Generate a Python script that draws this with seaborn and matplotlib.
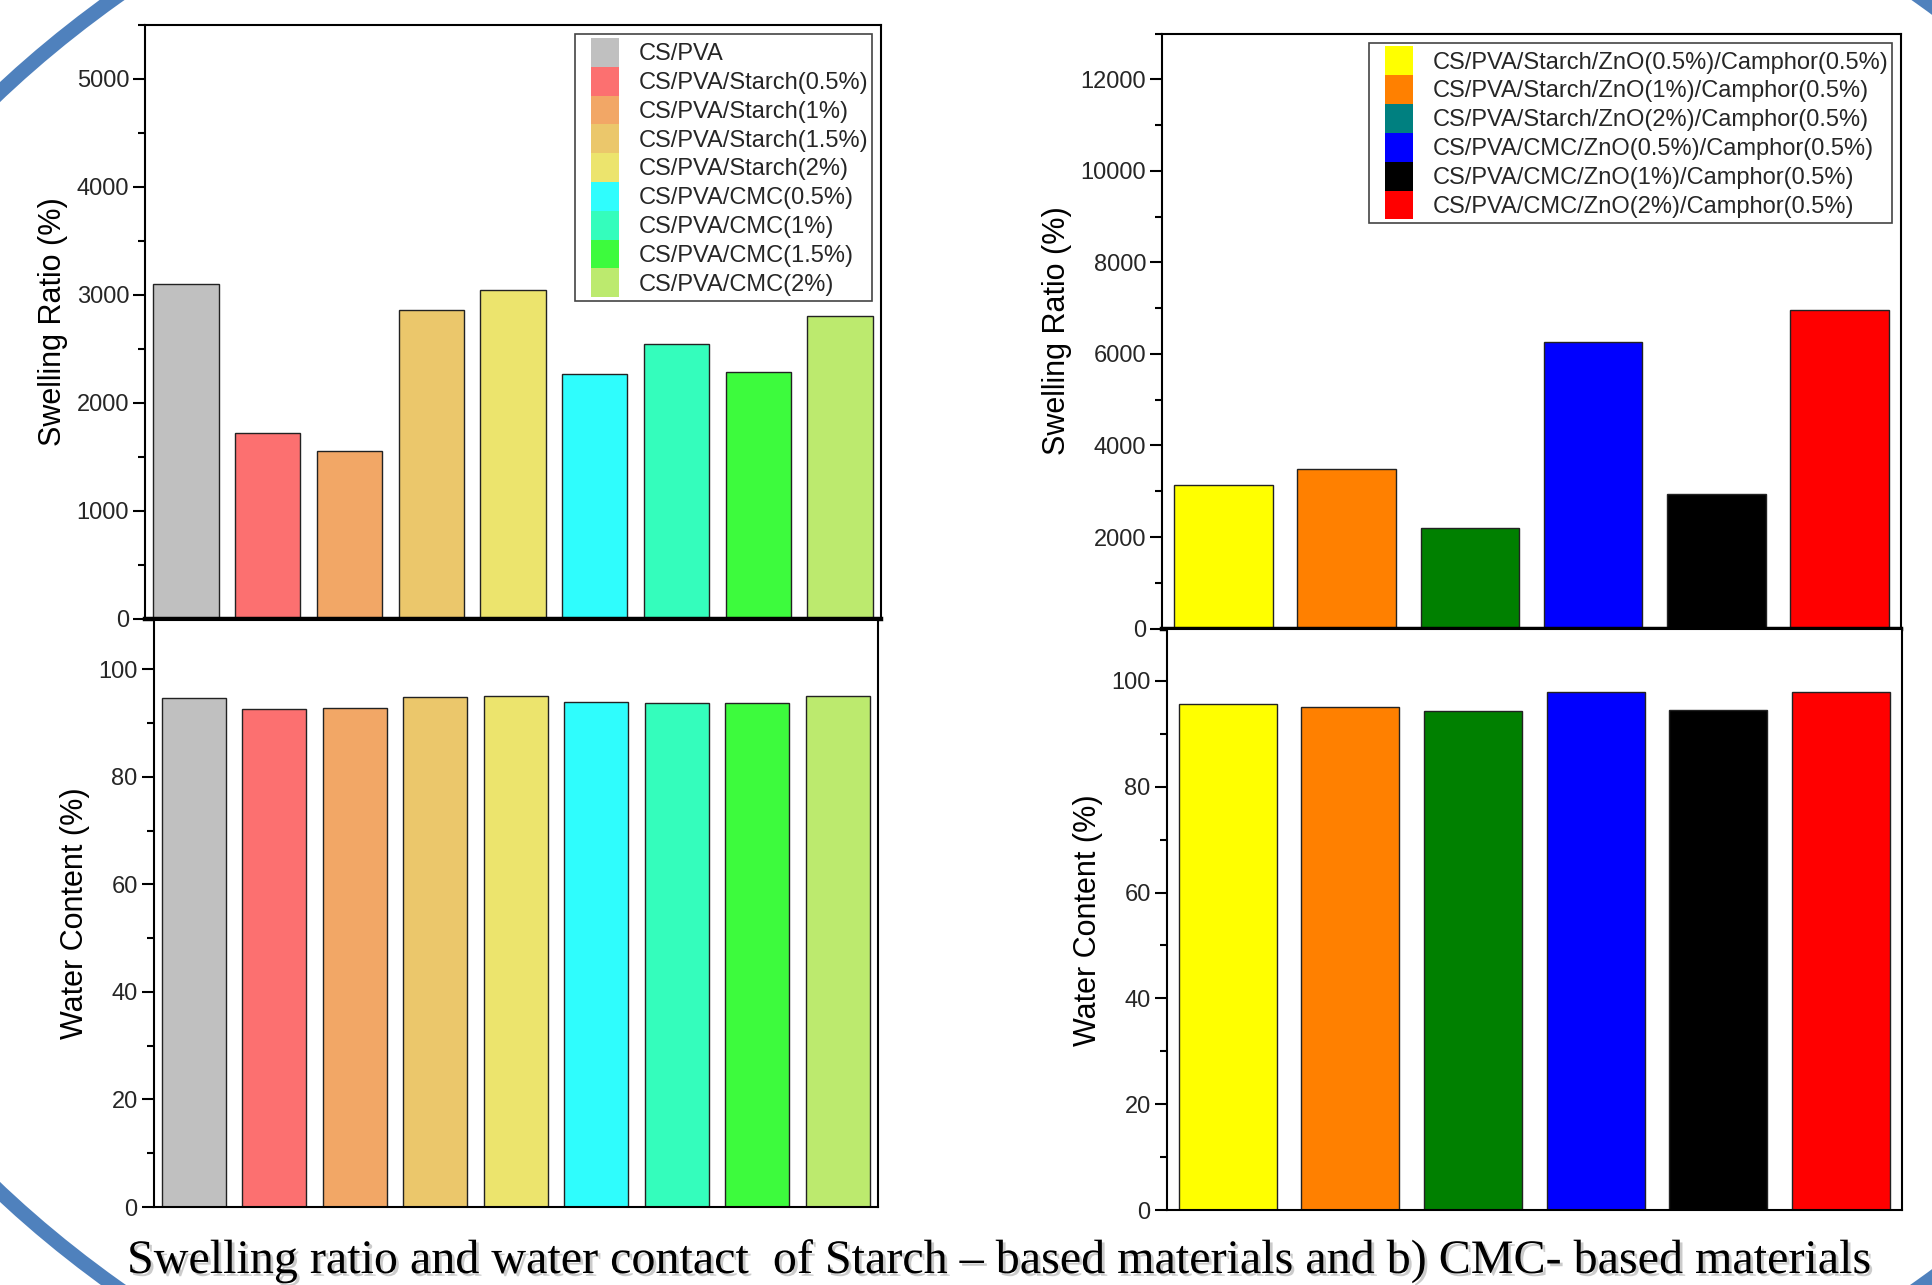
import matplotlib
matplotlib.use("Agg")
import matplotlib.pyplot as plt
import seaborn as sns
import pandas as pd
from matplotlib.patches import Patch, Ellipse, Rectangle
from matplotlib.legend_handler import HandlerPatch
from matplotlib.ticker import MultipleLocator
import matplotlib.patheffects as pe

# ---------------- data ----------------
starch_labels = ["CS/PVA", "CS/PVA/Starch(0.5%)", "CS/PVA/Starch(1%)",
                 "CS/PVA/Starch(1.5%)", "CS/PVA/Starch(2%)", "CS/PVA/CMC(0.5%)",
                 "CS/PVA/CMC(1%)", "CS/PVA/CMC(1.5%)", "CS/PVA/CMC(2%)"]
starch_swelling = [3100, 1720, 1550, 2860, 3040, 2270, 2540, 2280, 2800]
starch_water = [94.7, 92.6, 92.9, 94.8, 95.0, 93.9, 93.8, 93.7, 95.1]
starch_colors = ["#C0C0C0", "#FC7070", "#F2A766", "#EBC76B", "#ECE46D",
                 "#2FFDFD", "#34FDBC", "#3DFB3D", "#BCEA6E"]

cmc_labels = ["CS/PVA/Starch/ZnO(0.5%)/Camphor(0.5%)",
              "CS/PVA/Starch/ZnO(1%)/Camphor(0.5%)",
              "CS/PVA/Starch/ZnO(2%)/Camphor(0.5%)",
              "CS/PVA/CMC/ZnO(0.5%)/Camphor(0.5%)",
              "CS/PVA/CMC/ZnO(1%)/Camphor(0.5%)",
              "CS/PVA/CMC/ZnO(2%)/Camphor(0.5%)"]
cmc_swelling = [3140, 3480, 2190, 6270, 2940, 6960]
cmc_water = [95.6, 95.1, 94.3, 97.8, 94.5, 97.8]
cmc_colors = ["#FFFF00", "#FF8000", "#008000", "#0000FF", "#000000", "#FF0000"]
cmc_legend_colors = ["#FFFF00", "#FF8000", "#008080", "#0000FF", "#000000", "#FF0000"]

caption = ("Swelling ratio and water contact  of Starch \u2013 based materials "
           "and b) CMC- based materials")

# ---------------- style ----------------
sns.set_theme(style="white")
plt.rcParams["font.family"] = ["Liberation Sans", "DejaVu Sans"]

W, H = 1932, 1285
fig = plt.figure(figsize=(W / 100, H / 100), dpi=100)


def frac(left, top, right, bottom):
    return [left / W, 1 - bottom / H, (right - left) / W, (bottom - top) / H]


ax_ul = fig.add_axes(frac(145, 25, 881, 618.5))
ax_ll = fig.add_axes(frac(153.5, 620, 878, 1207))
ax_ur = fig.add_axes(frac(1162, 33.5, 1901, 628.6))
ax_lr = fig.add_axes(frac(1166.5, 629.3, 1902, 1210.3))


def draw(ax, labels, values, colors, ymax, major, minor, ylabel, top_panel):
    df = pd.DataFrame({"label": labels, "value": values})
    sns.barplot(data=df, x="label", y="value", hue="label", palette=colors,
                saturation=1, width=0.8, edgecolor="#222222", linewidth=1.0,
                legend=False, ax=ax)
    ax.set_ylim(0, ymax)
    ax.set_xlim(-0.5, len(labels) - 0.5)
    ax.yaxis.set_major_locator(MultipleLocator(major))
    ax.yaxis.set_minor_locator(MultipleLocator(minor))
    ax.tick_params(axis="y", which="major", left=True, direction="out",
                   length=8.4, width=1.5, labelsize=17, pad=3, color="black")
    ax.tick_params(axis="y", which="minor", left=True, direction="out",
                   length=4.8, width=1.5, color="black")
    ax.tick_params(axis="x", bottom=False, labelbottom=False)
    ax.set_xlabel("")
    ax.set_ylabel(ylabel, fontsize=22, labelpad=6, color="black")
    for s in ax.spines.values():
        s.set_visible(True)
        s.set_color("black")
        s.set_linewidth(1.5)
    if top_panel:
        ax.spines["bottom"].set_linewidth(3.2)
    ax.set_facecolor("white")


draw(ax_ul, starch_labels, starch_swelling, starch_colors, 5500, 1000, 500,
     "Swelling Ratio (%)", True)
draw(ax_ll, starch_labels, starch_water, starch_colors, 109.2, 20, 10,
     "Water Content (%)", False)
draw(ax_ur, cmc_labels, cmc_swelling, cmc_colors, 13000, 2000, 1000,
     "Swelling Ratio (%)", True)
draw(ax_lr, cmc_labels, cmc_water, cmc_colors, 109.7, 20, 10,
     "Water Content (%)", False)


def right_patch(legend, orig_handle, xdescent, ydescent, width, height, fontsize):
    w = 1.19 * fontsize
    return Rectangle((-xdescent + width - w, -ydescent), w, height)


def add_legend(ax, labels, colors):
    handles = [Patch(facecolor=c, edgecolor="none", label=l)
               for l, c in zip(labels, colors)]
    leg = ax.legend(handles=handles, loc="upper right", fontsize=17,
                    frameon=True, fancybox=False, borderaxespad=0.4,
                    borderpad=0.15, labelspacing=0.0, handlelength=1.72,
                    handleheight=1.5, handletextpad=0.8,
                    handler_map={Patch: HandlerPatch(patch_func=right_patch)})
    leg.get_frame().set_edgecolor("#444444")
    leg.get_frame().set_linewidth(1.2)
    leg.get_frame().set_facecolor("white")
    leg.get_frame().set_alpha(1)
    return leg


add_legend(ax_ul, starch_labels, starch_colors)
add_legend(ax_ur, cmc_labels, cmc_legend_colors)

# decorative slide frame (blue outline)
ell = Ellipse((1018 / 100, (H - 642) / 100), 25.54, 18.22,
              transform=fig.dpi_scale_trans, fill=False, edgecolor="#4F81BD",
              linewidth=10.5, zorder=-5)
fig.add_artist(ell)

fig.text(998 / W, 1 - 1273 / H, caption, ha="center", va="baseline",
         fontsize=34.6, family=["Liberation Serif", "DejaVu Serif"], color="black",
         path_effects=[pe.withSimplePatchShadow(offset=(2, -2),
                                                shadow_rgbFace="#999999",
                                                alpha=0.5)])

fig.savefig("out.png", dpi=100, facecolor="white")
